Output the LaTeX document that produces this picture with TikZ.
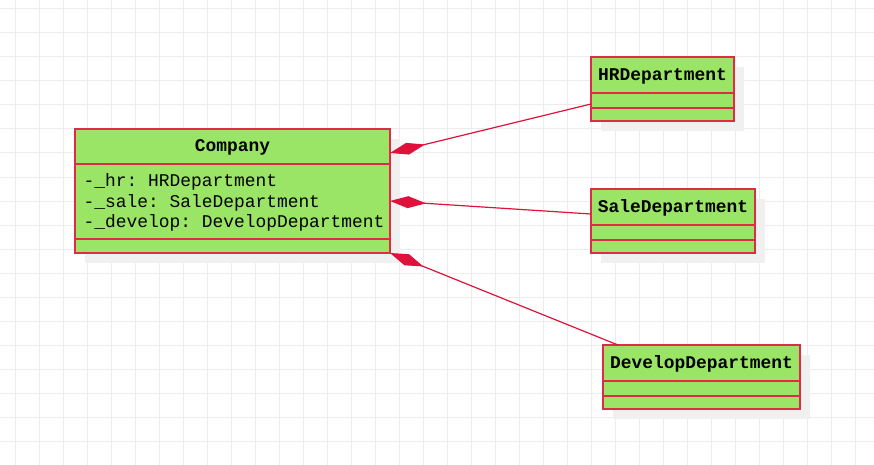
\documentclass[tikz,border=0pt]{standalone}
\usepackage{fontspec}
\setmonofont{Liberation Mono}
\usetikzlibrary{arrows.meta,shadows}
\definecolor{umlgreen}{RGB}{154,229,102}
\definecolor{umlred}{RGB}{222,44,72}
\definecolor{linkred}{RGB}{222,18,58}
\definecolor{gridgray}{RGB}{236,236,236}

\begin{document}
\begin{tikzpicture}[x=1pt,y=-1pt]
    % Define styles
    \tikzstyle{classbox} = [rectangle, anchor=north west, inner sep=0pt, outer sep=0pt, draw=umlred, line width=1.4pt, fill=umlgreen, minimum height=64pt, drop shadow={shadow xshift=10pt, shadow yshift=-10pt, fill=black!6, opacity=1}]
    \tikzstyle{sepline} = [draw=umlred, line width=1.4pt]
    \tikzstyle{classname} = [inner sep=0pt, font=\ttfamily\bfseries\fontsize{17.9}{20.5}\selectfont]
    \tikzstyle{attrs} = [inner sep=0pt, anchor=west, align=left, font=\ttfamily\fontsize{17.9}{20.6}\selectfont]
    \tikzstyle{composition} = [draw=linkred, line width=1.2pt, {Diamond[length=36pt, width=12pt, fill=linkred]}-]

    \useasboundingbox (0,0) rectangle (874,465);
    \fill[white] (0,0) rectangle (874,465);

    % Background grid
    \foreach \x in {15,39,...,874}
        \draw[gridgray, line width=1pt] (\x,0) -- (\x,465);
    \foreach \y in {9,33,...,465}
        \draw[gridgray, line width=1pt] (0,\y) -- (874,\y);

    % Classes
    \node (company) [classbox, minimum width=315pt, minimum height=124pt] at (75,129) {};
    \node (hr) [classbox, minimum width=143pt] at (591,57) {};
    \node (sale) [classbox, minimum width=164pt] at (591,189) {};
    \node (develop) [classbox, minimum width=197pt] at (603,345) {};

    % Compartments
    \draw[sepline] ([yshift=-35pt]company.north west) -- ([yshift=-35pt]company.north east);
    \draw[sepline] ([yshift=-110pt]company.north west) -- ([yshift=-110pt]company.north east);
    \foreach \c in {hr,sale,develop} {
        \draw[sepline] ([yshift=-36pt]\c.north west) -- ([yshift=-36pt]\c.north east);
        \draw[sepline] ([yshift=-51pt]\c.north west) -- ([yshift=-51pt]\c.north east);
    }

    % Names and attributes
    \node (companyname) [classname] at ([yshift=-18.5pt]company.north) {Company};
    \node (companyattrs) [attrs] at ([xshift=8.5pt, yshift=-73.5pt]company.north west) {-\_hr: HRDepartment\\-\_sale: SaleDepartment\\-\_develop: DevelopDepartment};
    \node (hrname) [classname] at ([yshift=-19pt]hr.north) {HRDepartment};
    \node (salename) [classname] at ([yshift=-19pt]sale.north) {SaleDepartment};
    \node (developname) [classname] at ([yshift=-19pt]develop.north) {DevelopDepartment};

    % Compositions
    \draw[composition] ([yshift=-24pt]company.north east) -- ([yshift=-47pt]hr.north west);
    \draw[composition] ([yshift=-72pt]company.north east) -- ([yshift=-25pt]sale.north west);
    \draw[composition] (company.south east) -- ([xshift=15pt]develop.north west);
\end{tikzpicture}
\end{document}
